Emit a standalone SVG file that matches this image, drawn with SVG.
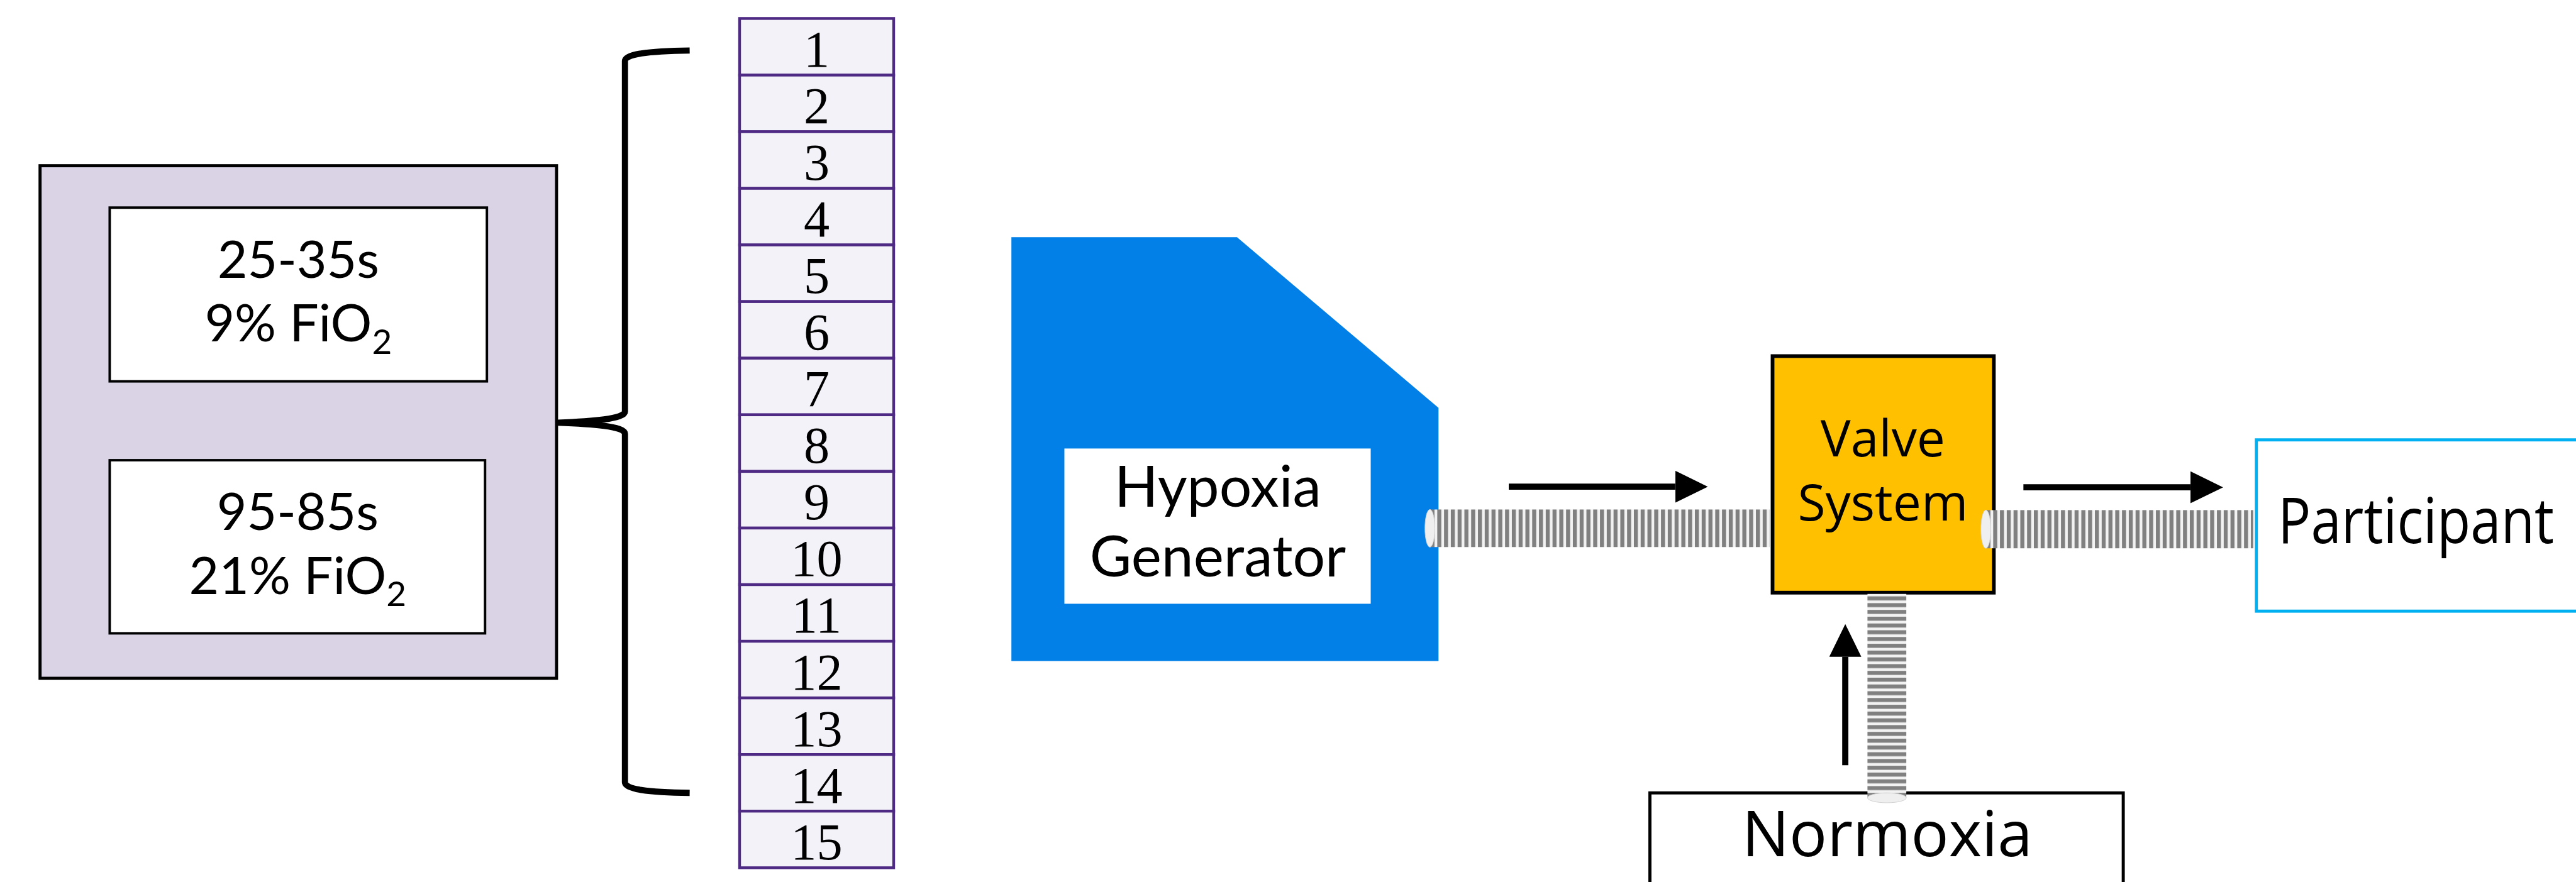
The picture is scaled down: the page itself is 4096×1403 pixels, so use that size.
<svg xmlns="http://www.w3.org/2000/svg" width="4096" height="1403" viewBox="0 0 4096 1403">
<defs>
<style>
.avn{font-family:Lato,"Noto Sans",sans-serif;fill:#000}
.seg{font-family:"Open Sans","Noto Sans",sans-serif;fill:#000}
.num{font-family:"Liberation Serif","Times New Roman",serif;font-size:84px;fill:#000;text-anchor:middle}
.row{fill:#F3F2F8;stroke:#4E2A84;stroke-width:4.5}
.shaft{stroke:#000;stroke-width:10;fill:none;marker-end:url(#head)}
.cap{fill:#EFEFEF;stroke:#D0D0D0;stroke-width:1}
</style>
<pattern id="vstripe" patternUnits="userSpaceOnUse" width="11" height="10">
<rect width="11" height="10" fill="#F2F2F2"/>
<rect width="6.5" height="10" fill="#808080"/>
</pattern>
<pattern id="hstripe" patternUnits="userSpaceOnUse" width="10" height="11">
<rect width="10" height="11" fill="#F2F2F2"/>
<rect width="10" height="6.5" fill="#808080"/>
</pattern>
<marker id="head" markerUnits="userSpaceOnUse" viewBox="0 0 53 52" refX="0" refY="26" markerWidth="53" markerHeight="52" orient="auto">
<path d="M0,0 L53,26 L0,52 Z" fill="#000"/>
</marker>
</defs>
<rect width="4096" height="1403" fill="#FFFFFF"/>
<g transform="scale(0.98)">
<g id="protocol-box">
<rect x="65" y="269" width="838" height="832" fill="#DAD3E6" stroke="#000" stroke-width="5"/>
<rect x="178" y="337" width="612" height="282" fill="#FFF" stroke="#000" stroke-width="4"/>
<text class="avn" font-size="84" text-anchor="middle"><tspan x="484" y="451">25-35s</tspan><tspan x="484" y="554">9% FiO<tspan font-size="56" dy="20">2</tspan></tspan></text>
<rect x="178" y="747" width="609" height="281" fill="#FFF" stroke="#000" stroke-width="4"/>
<text class="avn" font-size="84" text-anchor="middle"><tspan x="483" y="860">95-85s</tspan><tspan x="483" y="964">21% FiO<tspan font-size="56" dy="20">2</tspan></tspan></text>
</g>
<g id="cycle-list">
<rect class="row" x="1200" y="30" width="250" height="91.9"/>
<rect class="row" x="1200" y="121.9" width="250" height="91.9"/>
<rect class="row" x="1200" y="213.8" width="250" height="91.9"/>
<rect class="row" x="1200" y="305.7" width="250" height="91.9"/>
<rect class="row" x="1200" y="397.6" width="250" height="91.9"/>
<rect class="row" x="1200" y="489.5" width="250" height="91.9"/>
<rect class="row" x="1200" y="581.4" width="250" height="91.9"/>
<rect class="row" x="1200" y="673.3" width="250" height="91.9"/>
<rect class="row" x="1200" y="765.2" width="250" height="91.9"/>
<rect class="row" x="1200" y="857.1" width="250" height="91.9"/>
<rect class="row" x="1200" y="949" width="250" height="91.9"/>
<rect class="row" x="1200" y="1040.9" width="250" height="91.9"/>
<rect class="row" x="1200" y="1132.8" width="250" height="91.9"/>
<rect class="row" x="1200" y="1224.7" width="250" height="91.9"/>
<rect class="row" x="1200" y="1316.6" width="250" height="91.9"/>
<text class="num" x="1325" y="108">1</text>
<text class="num" x="1325" y="199.9">2</text>
<text class="num" x="1325" y="291.8">3</text>
<text class="num" x="1325" y="383.7">4</text>
<text class="num" x="1325" y="475.6">5</text>
<text class="num" x="1325" y="567.5">6</text>
<text class="num" x="1325" y="659.4">7</text>
<text class="num" x="1325" y="751.3">8</text>
<text class="num" x="1325" y="843.2">9</text>
<text class="num" x="1325" y="935.1">10</text>
<text class="num" x="1325" y="1027">11</text>
<text class="num" x="1325" y="1118.9">12</text>
<text class="num" x="1325" y="1210.8">13</text>
<text class="num" x="1325" y="1302.7">14</text>
<text class="num" x="1325" y="1394.6">15</text>
</g>
<g id="hypoxia-generator">
<polygon points="1641,385 2007,385 2334,662 2334,1073 1641,1073" fill="#0280E8"/>
<rect x="1727" y="728" width="497" height="252" fill="#FFF"/>
<text class="avn" font-size="93" text-anchor="middle"><tspan x="1976" y="822">Hypoxia</tspan><tspan x="1976" y="936">Generator</tspan></text>
</g>
<g id="valve-system">
<rect x="2876" y="578" width="359" height="384" fill="#FFC000" stroke="#000" stroke-width="6"/>
<text class="seg" font-size="82" text-anchor="middle"><tspan x="3055" y="741">Valve</tspan><tspan x="3055" y="845">System</tspan></text>
</g>
<g id="participant">
<rect x="3661" y="714" width="560" height="278" fill="#FFF" stroke="#00B0F0" stroke-width="5"/>
<text class="seg" font-size="102" x="3696" y="882" textLength="448" lengthAdjust="spacingAndGlyphs">Participant</text>
</g>
<g id="normoxia">
<rect x="2677" y="1287" width="768" height="200" fill="#FFF" stroke="#000" stroke-width="5"/>
<text class="seg" font-size="102" x="3062" y="1390" text-anchor="middle">Normoxia</text>
</g>
<g id="connectors">
<path id="brace" d="M1119,82 C1050,83 1014,88 1014,99 L1014,668 C1014,680 960,684 905,686 C960,688 1014,692 1014,704 L1014,1270 C1014,1281 1050,1286 1119,1287" fill="none" stroke="#000" stroke-width="10"/>
<g id="pipe-hypoxia-valve">
<rect x="2320" y="827" width="551" height="61" fill="url(#vstripe)"/>
<ellipse class="cap" cx="2320" cy="857.5" rx="8" ry="30.5"/>
</g>
<g id="pipe-valve-participant">
<rect x="3222" y="828" width="434" height="62" fill="url(#vstripe)"/>
<ellipse class="cap" cx="3222" cy="859" rx="8" ry="31"/>
</g>
<g id="pipe-normoxia-valve">
<rect x="3030" y="964" width="63" height="331" fill="url(#hstripe)"/>
<ellipse class="cap" cx="3061.5" cy="1295" rx="31.5" ry="8"/>
</g>
<line class="shaft" x1="2448" y1="790" x2="2718" y2="790"/>
<line class="shaft" x1="3283" y1="791" x2="3554" y2="791"/>
<line class="shaft" x1="2994" y1="1242" x2="2994" y2="1066"/>
</g>
</g>
</svg>
